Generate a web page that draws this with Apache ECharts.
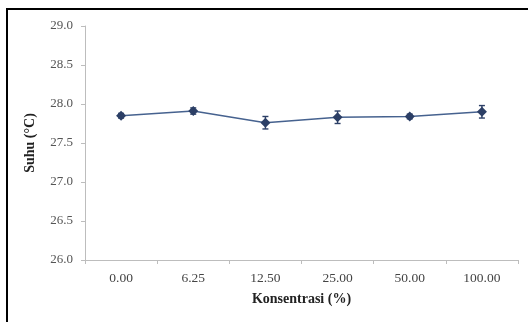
<!DOCTYPE html>
<html>
<head>
<meta charset="utf-8">
<script src="https://cdn.jsdelivr.net/npm/echarts@6/dist/echarts.min.js"></script>
<style>
  html, body { margin: 0; padding: 0; background: #fff; }
  #chart { width: 528px; height: 322px; }
</style>
</head>
<body>
<div id="chart"></div>
<script>
// Concentration levels (%) and mean temperature with error margins
const categories = ['0.00', '6.25', '12.50', '25.00', '50.00', '100.00'];
const temperature = [27.85, 27.91, 27.76, 27.83, 27.84, 27.90];
const errorMargin = [0.03, 0.04, 0.08, 0.08, 0.03, 0.08];
const yTicks = { min: 26.0, max: 29.0, step: 0.5 };

const chart = echarts.init(document.getElementById('chart'));

const errorData = categories.map((c, i) => [i, temperature[i] - errorMargin[i], temperature[i] + errorMargin[i]]);

const fontFamily = '"Liberation Serif", "Times New Roman", serif';

chart.setOption({
  backgroundColor: '#ffffff',
  animation: false,
  graphic: [{
    type: 'rect',
    shape: { x: 7, y: 9, width: 540, height: 340 },
    style: { fill: 'none', stroke: '#000', lineWidth: 2 },
    silent: true
  }],
  grid: { left: 85, right: 10, top: 26, bottom: 62 },
  xAxis: {
    type: 'category',
    data: categories,
    boundaryGap: true,
    name: 'Konsentrasi (%)',
    nameLocation: 'middle',
    nameGap: 32,
    nameTextStyle: { fontFamily, fontWeight: 'bold', fontSize: 14, color: '#222' },
    axisLine: { lineStyle: { color: '#bdbdbd', width: 1 } },
    axisTick: { show: true, length: 4, lineStyle: { color: '#bdbdbd' } },
    axisLabel: { fontFamily, fontSize: 13.5, color: '#444', margin: 11 },
    splitLine: { show: false }
  },
  yAxis: {
    type: 'value',
    min: yTicks.min,
    max: yTicks.max,
    interval: yTicks.step,
    name: 'Suhu (°C)',
    nameLocation: 'middle',
    nameGap: 48,
    nameTextStyle: { fontFamily, fontWeight: 'bold', fontSize: 14, color: '#222' },
    axisLine: { show: true, lineStyle: { color: '#bdbdbd', width: 1 } },
    axisTick: { show: true, length: 4, lineStyle: { color: '#bdbdbd' } },
    axisLabel: {
      fontFamily, fontSize: 13, color: '#555', margin: 12,
      formatter: v => v.toFixed(1)
    },
    splitLine: { show: false }
  },
  series: [
    {
      type: 'line',
      data: temperature,
      symbol: 'diamond',
      symbolSize: 10,
      itemStyle: { color: '#2c3f66' },
      lineStyle: { color: '#46628f', width: 1.6 },
      z: 3
    },
    {
      type: 'custom',
      data: errorData,
      renderItem: (params, api) => {
        const x = api.coord([api.value(0), api.value(1)])[0];
        const lo = api.coord([api.value(0), api.value(1)])[1];
        const hi = api.coord([api.value(0), api.value(2)])[1];
        const cap = 3;
        const style = { stroke: '#2c3f66', lineWidth: 1.4 };
        return {
          type: 'group',
          children: [
            { type: 'line', shape: { x1: x, y1: lo, x2: x, y2: hi }, style },
            { type: 'line', shape: { x1: x - cap, y1: lo, x2: x + cap, y2: lo }, style },
            { type: 'line', shape: { x1: x - cap, y1: hi, x2: x + cap, y2: hi }, style }
          ]
        };
      },
      z: 4
    }
  ]
});
</script>
</body>
</html>
